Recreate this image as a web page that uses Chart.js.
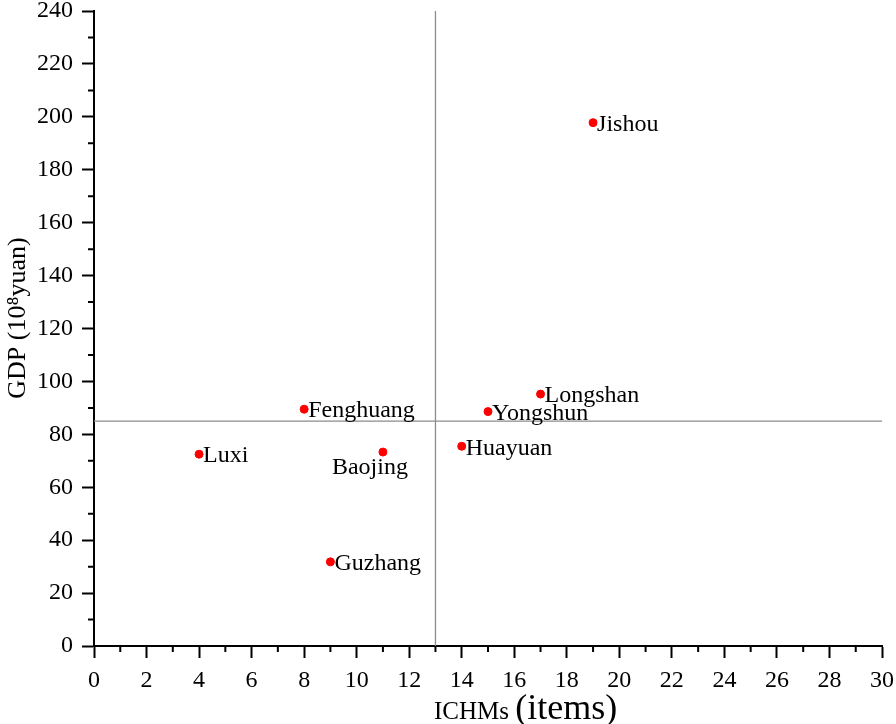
<!DOCTYPE html>
<html>
<head>
<meta charset="utf-8">
<script src="https://cdn.jsdelivr.net/npm/chart.js@4"></script>
<style>
  html, body { margin: 0; padding: 0; background: #fff; }
  #wrap { width: 896px; height: 724px; }
</style>
</head>
<body>
<div id="wrap"><canvas id="canvasGdp"></canvas></div>
<script>
// data
const counties = ['Jishou', 'Longshan', 'Yongshun', 'Huayuan', 'Fenghuang', 'Baojing', 'Luxi', 'Guzhang'];
const ichms = [19, 17, 15, 14, 8, 11, 4, 9];
const gdp = [197.8, 95.2, 88.6, 75.5, 89.5, 73.3, 72.5, 31.8];
const refX = 13;   // vertical reference line
const refY = 85;   // horizontal reference line

const serif = '"Liberation Serif", "Times New Roman", serif';

// minor ticks + reference lines + point labels + axis titles
const extras = {
  id: 'extras',
  beforeDatasetsDraw(chart) {
    const { ctx, chartArea: a, scales: { x, y } } = chart;
    ctx.save();
    ctx.strokeStyle = '#8c8c8c';
    ctx.lineWidth = 1.3;
    const vx = x.getPixelForValue(refX);
    const hy = y.getPixelForValue(refY);
    ctx.beginPath();
    ctx.moveTo(vx, a.top); ctx.lineTo(vx, a.bottom);
    ctx.moveTo(a.left, hy); ctx.lineTo(a.right, hy);
    ctx.stroke();
    ctx.restore();
  },
  afterDraw(chart) {
    const { ctx, chartArea: a, scales: { x, y } } = chart;
    ctx.save();
    ctx.strokeStyle = '#000';
    ctx.lineWidth = 2;
    ctx.beginPath();
    for (let v = 1; v < 30; v += 2) {
      const px = x.getPixelForValue(v);
      ctx.moveTo(px, a.bottom); ctx.lineTo(px, a.bottom + 6);
    }
    for (let v = 10; v < 240; v += 20) {
      const py = y.getPixelForValue(v);
      ctx.moveTo(a.left, py); ctx.lineTo(a.left - 6, py);
    }
    ctx.stroke();

    // point labels
    ctx.fillStyle = '#000';
    ctx.font = '24px ' + serif;
    ctx.textBaseline = 'middle';
    counties.forEach((name, i) => {
      const px = x.getPixelForValue(ichms[i]);
      const py = y.getPixelForValue(gdp[i]);
      if (name === 'Baojing') {
        ctx.textAlign = 'center';
        ctx.fillText(name, px - 13, py + 16);
      } else {
        ctx.textAlign = 'left';
        ctx.fillText(name, px + 4, py + 2);
      }
    });

    // x axis title with mixed sizes
    ctx.textBaseline = 'alphabetic';
    ctx.textAlign = 'left';
    const base = 719;
    let sx = 434;
    ctx.font = '25px ' + serif;
    ctx.fillText('ICHMs ', sx, base);
    sx += ctx.measureText('ICHMs ').width;
    ctx.font = '36px ' + serif;
    ctx.fillText('(items)', sx, base);

    // y axis title
    ctx.translate(18, 318);
    ctx.rotate(-Math.PI / 2);
    ctx.textAlign = 'center';
    ctx.textBaseline = 'middle';
    ctx.font = '26px ' + serif;
    ctx.fillText('GDP (10⁸yuan)', 0, 0);
    ctx.restore();
  }
};

new Chart(document.getElementById('canvasGdp'), {
  type: 'scatter',
  data: {
    datasets: [{
      label: 'GDP',
      data: ichms.map((v, i) => ({ x: v, y: gdp[i] })),
      backgroundColor: '#ff0000',
      borderColor: '#ff0000',
      pointRadius: 4,
      pointHoverRadius: 4
    }]
  },
  options: {
    responsive: true,
    maintainAspectRatio: false,
    animation: false,
    layout: { padding: { top: 0, right: 14, left: 0, bottom: 0 } },
    plugins: { legend: { display: false }, tooltip: { enabled: false } },
    scales: {
      x: {
        type: 'linear',
        min: 0, max: 30,
        ticks: { stepSize: 2, color: '#000', font: { family: serif, size: 24 }, padding: 8, maxRotation: 0 },
        grid: { drawOnChartArea: false, tickLength: 12, tickWidth: 2, tickColor: '#000' },
        border: { color: '#000', width: 2 },
        afterFit: s => { s.height = 78; s.paddingRight = 0; }
      },
      y: {
        min: 0, max: 240,
        ticks: { stepSize: 20, color: '#000', font: { family: serif, size: 24 }, padding: 9 },
        grid: { drawOnChartArea: false, tickLength: 12, tickWidth: 2, tickColor: '#000' },
        border: { color: '#000', width: 2 },
        afterFit: s => { s.width = 94; s.paddingTop = 11; s.paddingBottom = 0; }
      }
    }
  },
  plugins: [extras]
});
</script>
</body>
</html>
